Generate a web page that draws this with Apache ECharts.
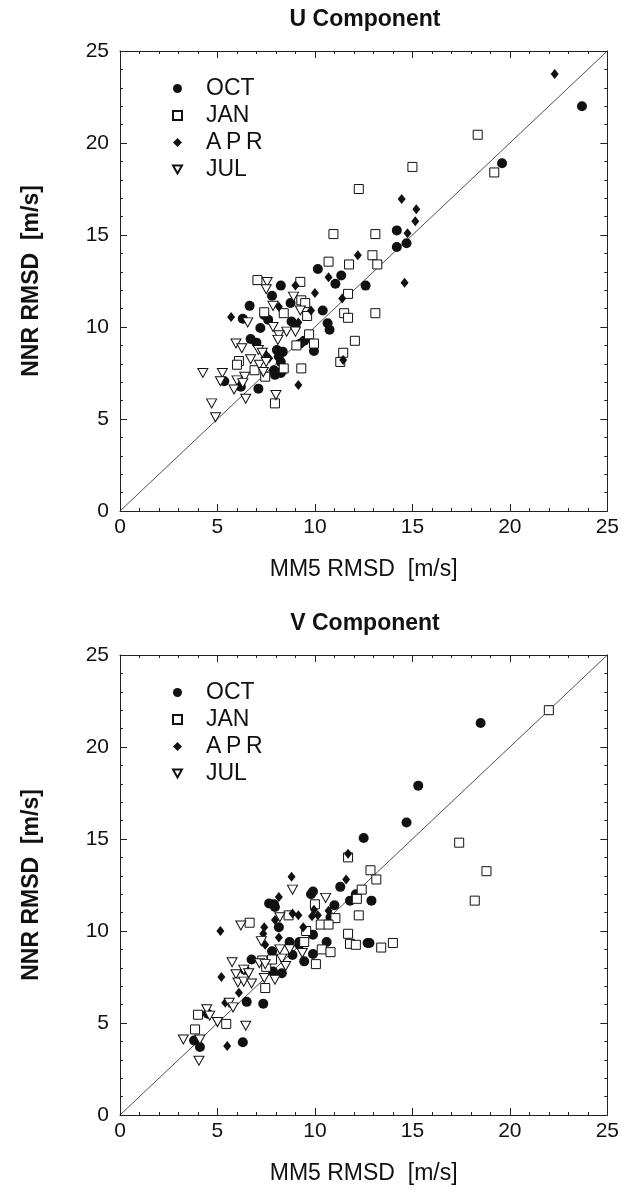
<!DOCTYPE html>
<html>
<head>
<meta charset="utf-8">
<script src="https://cdn.jsdelivr.net/npm/echarts@6/dist/echarts.min.js"></script>
<style>
html,body{margin:0;padding:0;background:#fff;}
#chart{width:622px;height:1192px;}
</style>
</head>
<body>
<div id="chart"></div>
<script>
// ---------- DATA ----------
const titles = ['U Component', 'V Component'];
const xName = 'MM5 RMSD  [m/s]';
const yName = 'NNR RMSD  [m/s]';
const seriesNames = ['OCT', 'JAN', 'APR', 'JUL'];
const axisMin = 0, axisMax = 25, tickStep = 5;
const diag = [[0, 0], [25, 25]];

// U component [MM5, NNR]
const u_oct = [[23.7,22.0],[19.6,18.9],[14.2,15.25],[14.2,14.35],[14.7,14.55],[10.15,13.15],[11.35,12.8],[11.05,12.35],[12.6,12.25],[8.25,12.25],[7.8,11.7],[8.75,11.3],[6.65,11.15],[7.4,10.65],[7.6,10.4],[10.4,10.9],[6.3,10.45],[7.2,9.95],[8.8,10.3],[9.0,10.05],[10.65,10.2],[10.75,9.85],[9.25,9.1],[9.45,9.25],[9.95,8.7],[6.7,9.35],[7.0,9.15],[8.05,8.75],[8.35,8.65],[8.15,8.4],[8.25,8.1],[7.9,7.65],[8.35,7.65],[7.95,7.4],[8.25,7.5],[5.35,7.05],[6.2,6.75],[7.1,6.65]];
const u_jan = [[18.35,20.45],[15.0,18.7],[19.2,18.4],[12.25,17.5],[10.95,15.05],[13.1,15.05],[12.95,13.9],[13.2,13.4],[10.7,13.55],[11.75,13.4],[7.05,12.55],[9.25,12.45],[11.7,11.8],[9.3,11.45],[9.5,11.3],[7.4,10.8],[8.4,10.75],[9.6,10.6],[11.5,10.75],[11.7,10.5],[13.1,10.75],[9.7,9.6],[9.05,9.0],[9.95,9.1],[12.05,9.25],[11.45,8.6],[11.3,8.1],[6.1,8.15],[6.0,7.95],[6.9,7.65],[8.4,7.75],[9.3,7.75],[7.45,7.3],[7.95,5.85]];
const u_apr = [[22.3,23.75],[14.45,16.95],[15.2,16.4],[15.15,15.75],[14.75,15.1],[14.6,12.4],[12.2,13.9],[10.7,12.7],[9.0,12.25],[10.0,11.85],[11.4,11.55],[8.15,11.1],[9.8,10.9],[5.7,10.55],[9.15,10.25],[7.45,8.55],[7.65,8.3],[11.45,8.2],[9.15,6.85]];
const u_jul = [[7.55,12.45],[7.5,12.05],[8.9,11.65],[7.85,11.15],[9.25,10.9],[6.55,10.25],[7.85,10.0],[8.55,9.75],[9.0,9.75],[8.15,9.55],[8.1,9.3],[5.95,9.1],[6.25,8.85],[7.1,8.75],[7.3,8.6],[6.7,8.25],[7.15,7.95],[7.5,8.1],[7.35,7.55],[4.25,7.5],[5.25,7.5],[5.15,7.05],[6.0,7.1],[6.4,7.3],[6.3,6.95],[5.85,6.6],[6.45,6.1],[8.0,6.3],[4.7,5.85],[4.9,5.1]];

// V component [MM5, NNR]
const v_oct = [[18.5,21.3],[15.3,17.9],[14.7,15.9],[12.9,11.65],[12.8,9.35],[12.5,15.05],[11.3,12.4],[12.1,12.0],[11.8,11.65],[9.8,12.0],[9.9,12.15],[11.0,11.4],[7.65,11.5],[7.9,11.45],[7.95,11.3],[10.8,10.75],[8.15,10.2],[9.9,9.8],[8.7,9.4],[9.2,9.4],[9.2,9.25],[12.7,9.35],[10.6,9.4],[7.8,8.9],[9.9,8.75],[8.85,8.7],[9.45,8.35],[6.75,8.45],[6.4,7.9],[7.85,7.8],[8.3,7.7],[6.5,6.15],[7.35,6.05],[4.5,5.5],[3.8,4.05],[4.1,3.7],[6.3,3.95]];
const v_jan = [[22.0,22.0],[17.4,14.8],[18.8,13.25],[18.2,11.65],[12.85,13.3],[13.15,12.8],[13.4,9.1],[14.0,9.35],[11.7,14.0],[12.4,12.25],[12.15,11.75],[10.0,11.45],[11.05,10.7],[12.25,10.85],[8.65,10.85],[6.65,10.45],[9.55,10.0],[10.3,10.35],[10.7,10.35],[9.45,9.4],[11.7,9.85],[11.8,9.3],[12.1,9.25],[10.35,9.0],[10.8,8.85],[10.05,8.2],[7.3,8.4],[7.5,8.05],[7.8,8.45],[7.45,6.9],[4.0,5.45],[5.45,4.95],[3.85,4.65]];
const v_apr = [[11.7,14.2],[11.6,12.8],[8.8,12.95],[8.15,11.85],[9.95,11.15],[10.7,11.1],[8.85,10.95],[9.15,10.85],[9.85,10.8],[10.15,10.85],[7.95,10.6],[5.15,10.0],[7.4,10.2],[9.4,10.2],[7.35,9.85],[8.15,9.65],[7.45,9.25],[5.2,7.5],[6.1,6.65],[5.4,6.1],[5.5,3.75]];
const v_jul = [[8.85,12.25],[10.55,11.8],[8.2,10.75],[6.2,10.3],[7.25,9.45],[8.2,9.0],[8.7,9.0],[9.35,8.8],[8.3,8.5],[8.5,8.1],[7.15,8.25],[7.45,8.2],[5.75,8.3],[5.95,7.65],[6.35,7.9],[6.6,7.7],[6.05,7.2],[6.35,7.25],[6.75,7.15],[7.4,7.45],[7.95,7.35],[5.6,6.1],[5.8,5.85],[4.45,5.75],[4.6,5.4],[5.0,5.05],[6.45,4.85],[3.25,4.1],[4.1,4.1],[4.05,2.95]];

const plotData = [[u_oct, u_jan, u_apr, u_jul], [v_oct, v_jan, v_apr, v_jul]];

// ---------- STYLE ----------
const FONT = "'Liberation Sans', Arial, Helvetica, sans-serif";
const INK = '#111';
const grids = [
  { left: 120, top: 51, width: 490, height: 460 },
  { left: 120, top: 655, width: 490, height: 460 }
];
const markerStyles = [
  { symbol: 'circle', symbolSize: 10, itemStyle: { color: INK, borderWidth: 0, opacity: 1 } },
  { symbol: 'rect', symbolSize: 9, itemStyle: { color: '#fff', borderColor: INK, borderWidth: 1, opacity: 1 } },
  { symbol: 'diamond', symbolSize: [8, 10], itemStyle: { color: INK, borderWidth: 0, opacity: 1 } },
  { symbol: 'path://M0,0L10,0L5,9Z', symbolSize: [10, 9], itemStyle: { color: '#fff', borderColor: INK, borderWidth: 1, opacity: 1 } }
];

const xAxes = [], yAxes = [], series = [], titleOpts = [], legends = [];
function baseAxis(gridIndex, position, labels) {
  return {
    type: 'value', gridIndex, position, min: axisMin, max: axisMax, interval: tickStep,
    axisLine: { show: true, onZero: false, lineStyle: { color: '#222', width: 1 } },
    axisTick: { show: true, inside: true, length: 7, lineStyle: { color: '#222', width: 1 } },
    minorTick: { show: true, splitNumber: 5, length: 3, lineStyle: { color: '#222', width: 1 } },
    splitLine: { show: false },
    axisLabel: { show: labels, color: '#111', fontFamily: FONT, fontSize: 21 }
  };
}
grids.forEach((g, gi) => {
  const xb = baseAxis(gi, 'bottom', true);
  xb.axisLabel.margin = 6;
  xb.name = xName; xb.nameLocation = 'middle'; xb.nameGap = 47;
  xb.nameTextStyle = { fontFamily: FONT, fontSize: 23, color: '#111' };
  const xt = baseAxis(gi, 'top', false);
  const yl = baseAxis(gi, 'left', true);
  yl.axisLabel.margin = 11;
  yl.name = yName; yl.nameLocation = 'middle'; yl.nameGap = 77;
  yl.nameTextStyle = { fontFamily: FONT, fontSize: 23, fontWeight: 'bold', color: '#111' };
  const yr = baseAxis(gi, 'right', false);
  const xi = xAxes.length, yi = yAxes.length;
  xAxes.push(xb, xt); yAxes.push(yl, yr);

  series.push({
    type: 'line', xAxisIndex: xi, yAxisIndex: yi, data: diag, symbol: 'none', silent: true,
    lineStyle: { color: '#222', width: 0.8 }, z: 1
  });
  seriesNames.forEach((name, si) => {
    const m = markerStyles[si];
    series.push({
      type: 'scatter', name, xAxisIndex: xi, yAxisIndex: yi, data: plotData[gi][si],
      symbol: m.symbol, symbolSize: m.symbolSize, itemStyle: m.itemStyle, z: 2 + si
    });
  });

  titleOpts.push({
    text: titles[gi], left: 365, top: g.top - 43, textAlign: 'center', padding: 0,
    textStyle: { fontFamily: FONT, fontSize: 23, fontWeight: 'bold', color: '#111' }
  });
  legends.push({
    data: seriesNames, orient: 'vertical', left: 172, top: g.top + 24, padding: 0,
    itemWidth: 9, itemHeight: 9, itemGap: 0, selectedMode: false,
    formatter: n => n === 'APR' ? 'A\u2009P\u2009R' : n,
    textStyle: { fontFamily: FONT, fontSize: 23, color: '#111', lineHeight: 27, padding: [0, 0, 0, 19] }
  });
});

const chart = echarts.init(document.getElementById('chart'), null, { renderer: 'canvas' });
chart.setOption({
  backgroundColor: '#fff',
  animation: false,
  title: titleOpts,
  legend: legends,
  grid: grids,
  xAxis: xAxes,
  yAxis: yAxes,
  series
});
</script>
</body>
</html>
